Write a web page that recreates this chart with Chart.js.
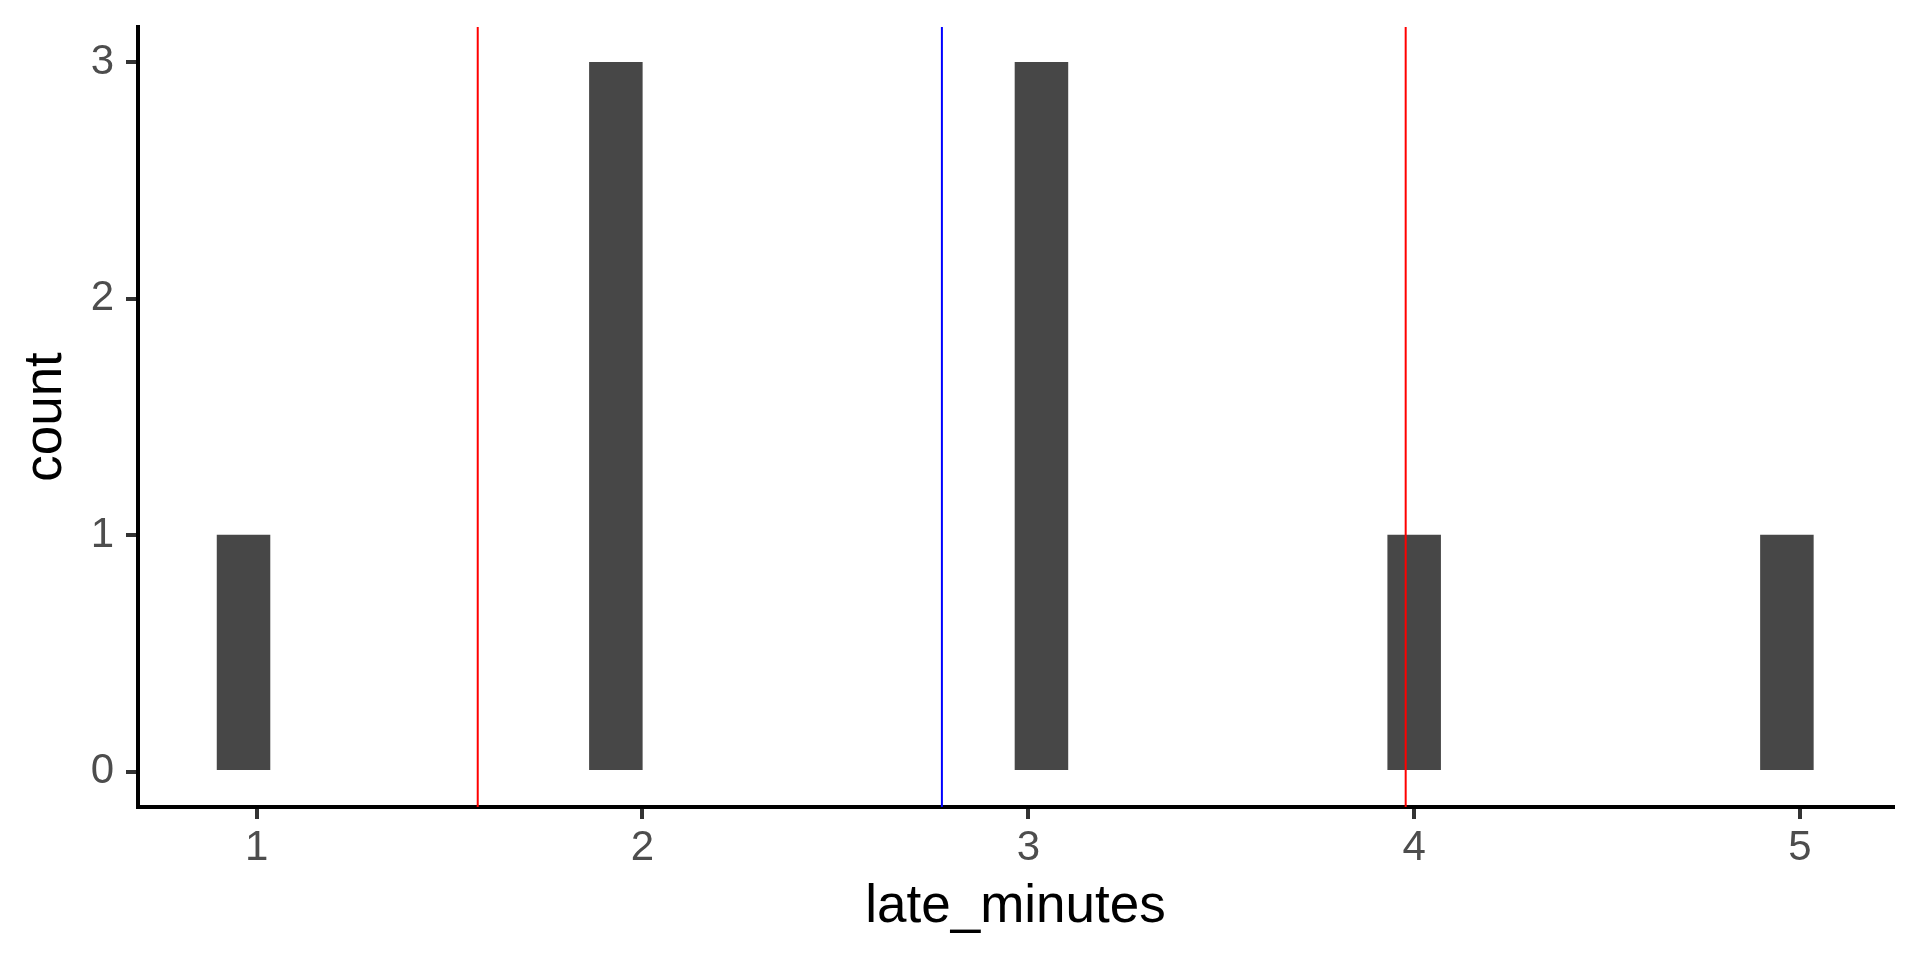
<!DOCTYPE html>
<html lang="en">
<head>
    <meta charset="UTF-8">
    <title>late_minutes histogram</title>
    <script src="https://cdn.jsdelivr.net/npm/chart.js"></script>
    <style>
        html, body { margin: 0; padding: 0; background: #fff; }
        #wrap { width: 1920px; height: 960px; }
    </style>
</head>
<body>
    <div id="wrap"><canvas id="histChart" width="1920" height="960"></canvas></div>
    <script>
        // histogram bins (bin centre on late_minutes) and counts
        const binCenters = [0.966, 1.931, 3.034, 4.0, 4.966];
        const binCounts = [1, 3, 3, 1, 1];
        const binWidth = 0.137;

        // reference lines: mean (blue) and mean +/- sd (red)
        const meanLine = 2.776;
        const sdLines = [1.573, 3.978];

        const xTicks = [1, 2, 3, 4, 5];
        const yTicks = [0, 1, 2, 3];
        const xRange = [0.6925, 5.241];
        const yRange = [-0.15, 3.15];

        const fontFamily = "'Liberation Sans', Arial, sans-serif";

        function vline(x, color) {
            return {
                type: 'line',
                data: [{ x: x, y: yRange[0] }, { x: x, y: yRange[1] }],
                borderColor: color,
                borderWidth: 2,
                pointRadius: 0,
                fill: false,
                order: 1
            };
        }

        const ctx = document.getElementById('histChart').getContext('2d');

        const chart = new Chart(ctx, {
            type: 'bar',
            data: {
                datasets: [
                    {
                        type: 'bar',
                        data: binCenters.map((c, i) => ({ x: c, y: binCounts[i] })),
                        backgroundColor: '#474747',
                        borderWidth: 0,
                        barThickness: 50,
                        order: 2
                    },
                    vline(sdLines[0], '#ff0000'),
                    vline(sdLines[1], '#ff0000'),
                    vline(meanLine, '#0000ff')
                ]
            },
            options: {
                responsive: false,
                animation: false,
                layout: { padding: { top: 27, right: 27, left: 0, bottom: 0 } },
                plugins: {
                    legend: { display: false },
                    tooltip: { enabled: false }
                },
                scales: {
                    x: {
                        type: 'linear',
                        offset: false,
                        min: xRange[0],
                        max: xRange[1],
                        afterBuildTicks: (s) => { s.ticks = xTicks.map(v => ({ value: v })); },
                        afterFit: (s) => {
                            s.height = 153;
                            s.paddingLeft = 0;
                            s.paddingRight = 0;
                        },
                        grid: { offset: false, drawOnChartArea: false, drawTicks: true, tickLength: 12, color: '#333333', lineWidth: 4 },
                        border: { display: true, color: '#000000', width: 4 },
                        ticks: { color: '#4d4d4d', font: { family: fontFamily, size: 42 }, padding: 4 },
                        title: {
                            display: true,
                            text: 'late_minutes',
                            color: '#000000',
                            font: { family: fontFamily, size: 53 },
                            padding: { top: 4, bottom: 21 }
                        }
                    },
                    y: {
                        type: 'linear',
                        min: yRange[0],
                        max: yRange[1],
                        afterBuildTicks: (s) => { s.ticks = yTicks.map(v => ({ value: v })); },
                        afterFit: (s) => {
                            s.width = 138;
                            s.paddingTop = 0;
                            s.paddingBottom = 0;
                        },
                        grid: { drawOnChartArea: false, drawTicks: true, tickLength: 12, color: '#333333', lineWidth: 4 },
                        border: { display: true, color: '#000000', width: 4 },
                        ticks: { color: '#4d4d4d', font: { family: fontFamily, size: 42 }, padding: 12 },
                        title: {
                            display: true,
                            text: 'count',
                            color: '#000000',
                            font: { family: fontFamily, size: 53 },
                            padding: { top: 15, bottom: 0 }
                        }
                    }
                }
            }
        });

        // set bar width to the bin width in pixels, then redraw
        const xs = chart.scales.x;
        chart.data.datasets[0].barThickness = xs.getPixelForValue(binWidth) - xs.getPixelForValue(0);
        chart.update();
    </script>
</body>
</html>
